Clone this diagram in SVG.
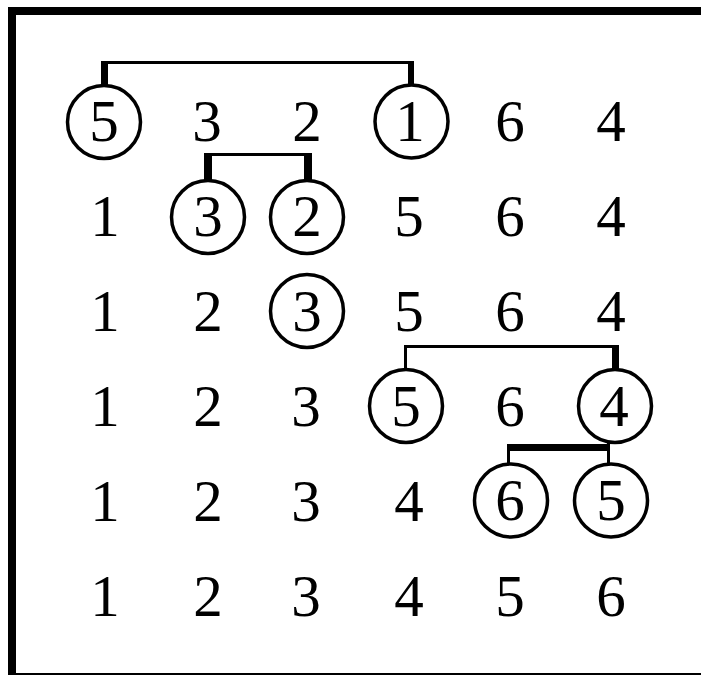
<svg xmlns="http://www.w3.org/2000/svg" width="701" height="675" viewBox="0 0 701 675">
<style>
text{font-family:"Liberation Serif","Times New Roman",serif;font-size:59px;fill:#000;text-anchor:middle}
circle{fill:none;stroke:#000;stroke-width:3.5}
.c line{stroke:#000}
</style>
<rect width="701" height="675" fill="#fff"/>
<g id="frame" fill="#000">
<rect x="8" y="7" width="693" height="8"/>
<rect x="8" y="7" width="8" height="668"/>
<rect x="8" y="673" width="693" height="2"/>
</g>
<g id="connectors" class="c">
<line x1="101" y1="62.5" x2="414" y2="62.5" stroke-width="3"/>
<line x1="104.5" y1="61" x2="104.5" y2="87" stroke-width="7"/>
<line x1="411" y1="61" x2="411" y2="86" stroke-width="6"/>
<line x1="204" y1="154.5" x2="312" y2="154.5" stroke-width="3"/>
<line x1="208" y1="153" x2="208" y2="181" stroke-width="8"/>
<line x1="308" y1="153" x2="308" y2="181" stroke-width="8"/>
<line x1="404" y1="346.5" x2="619" y2="346.5" stroke-width="3"/>
<line x1="405.5" y1="345" x2="405.5" y2="370" stroke-width="3"/>
<line x1="615.5" y1="345" x2="615.5" y2="370" stroke-width="7"/>
<line x1="507" y1="447.5" x2="610" y2="447.5" stroke-width="7"/>
<line x1="508.5" y1="444" x2="508.5" y2="465" stroke-width="3"/>
<line x1="608.5" y1="442" x2="608.5" y2="465" stroke-width="3"/>
</g>
<g id="r1c1"><circle cx="104" cy="122" r="36.5"/><text x="104" y="141">5</text></g>
<g id="r1c2"><text x="207" y="141">3</text></g>
<g id="r1c3"><text x="307" y="141">2</text></g>
<g id="r1c4"><circle cx="411.5" cy="121.5" r="36.5"/><text x="410" y="141">1</text></g>
<g id="r1c5"><text x="510" y="141">6</text></g>
<g id="r1c6"><text x="611" y="141">4</text></g>
<g id="r2c1"><text x="105" y="236">1</text></g>
<g id="r2c2"><circle cx="208" cy="217" r="36.5"/><text x="208" y="236">3</text></g>
<g id="r2c3"><circle cx="307" cy="217" r="36.5"/><text x="307" y="236">2</text></g>
<g id="r2c4"><text x="409" y="236">5</text></g>
<g id="r2c5"><text x="510" y="236">6</text></g>
<g id="r2c6"><text x="611" y="236">4</text></g>
<g id="r3c1"><text x="105" y="331">1</text></g>
<g id="r3c2"><text x="208" y="331">2</text></g>
<g id="r3c3"><circle cx="307" cy="311" r="36.5"/><text x="307" y="331">3</text></g>
<g id="r3c4"><text x="409" y="331">5</text></g>
<g id="r3c5"><text x="510" y="331">6</text></g>
<g id="r3c6"><text x="611" y="331">4</text></g>
<g id="r4c1"><text x="105" y="426">1</text></g>
<g id="r4c2"><text x="208" y="426">2</text></g>
<g id="r4c3"><text x="306" y="426">3</text></g>
<g id="r4c4"><circle cx="406" cy="406" r="36.5"/><text x="406" y="426">5</text></g>
<g id="r4c5"><text x="510" y="426">6</text></g>
<g id="r4c6"><circle cx="615" cy="406" r="36.5"/><text x="614" y="426">4</text></g>
<g id="r5c1"><text x="105" y="521">1</text></g>
<g id="r5c2"><text x="208" y="521">2</text></g>
<g id="r5c3"><text x="306" y="521">3</text></g>
<g id="r5c4"><text x="409" y="521">4</text></g>
<g id="r5c5"><circle cx="511" cy="500.5" r="36.5"/><text x="510" y="520">6</text></g>
<g id="r5c6"><circle cx="611" cy="500.5" r="36.5"/><text x="611" y="520">5</text></g>
<g id="r6c1"><text x="105" y="616">1</text></g>
<g id="r6c2"><text x="208" y="616">2</text></g>
<g id="r6c3"><text x="306" y="616">3</text></g>
<g id="r6c4"><text x="409" y="616">4</text></g>
<g id="r6c5"><text x="510" y="616">5</text></g>
<g id="r6c6"><text x="611" y="616">6</text></g>
</svg>
